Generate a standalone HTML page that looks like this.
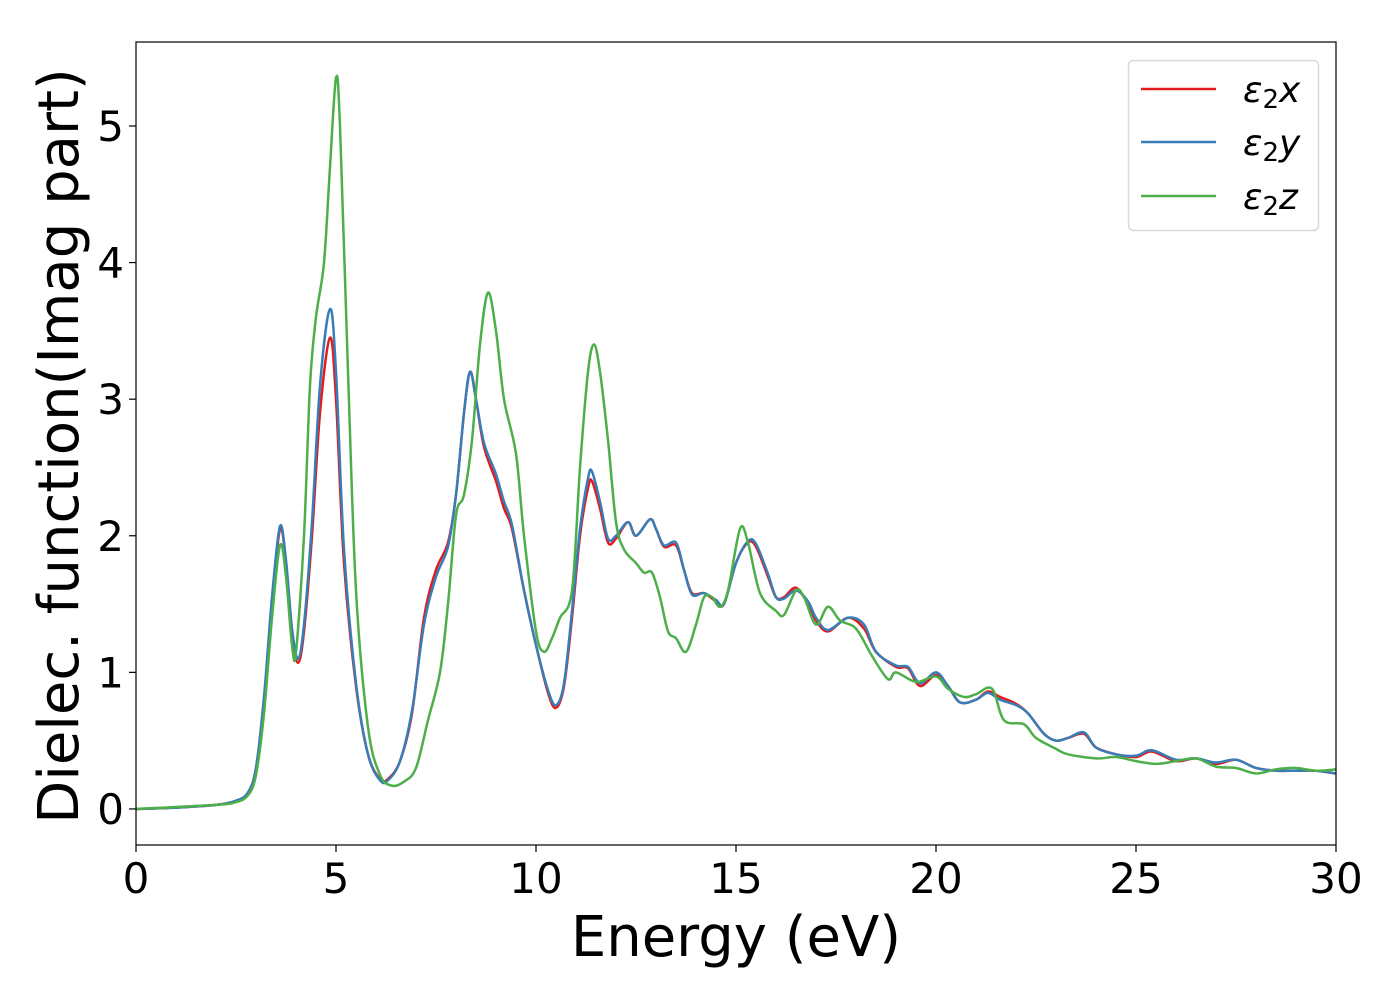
<!DOCTYPE html>
<html><head><meta charset="utf-8"><style>
html,body{margin:0;padding:0;background:#fff;}
svg{display:block;font-family:"DejaVu Sans","Liberation Sans",sans-serif;}
</style></head><body>
<svg id="chart" width="1400" height="1000" viewBox="0 0 1400 1000" xmlns="http://www.w3.org/2000/svg">
<rect width="1400" height="1000" fill="#fff"/>
<g id="plot"></g>
<g id="axes"></g>
<text x="736" y="956" font-size="56" text-anchor="middle" fill="#000">Energy (eV)</text>
<text transform="translate(78,446) rotate(-90)" font-size="56" text-anchor="middle" fill="#000">Dielec. function(Imag part)</text>
<g>
<rect x="1128.5" y="60.5" width="190" height="170" rx="5" fill="#fff" stroke="#d9d9d9" stroke-width="1.5"/>
<g>
<line x1="1141" y1="89" x2="1216" y2="89" stroke="#e41a1c" stroke-width="2.5"/>
<text x="1243" y="102" font-size="36" font-style="italic" fill="#000">ε<tspan font-style="normal" font-size="26" dy="6">2</tspan><tspan dy="-6">x</tspan></text>
</g>
<g>
<line x1="1141" y1="142" x2="1216" y2="142" stroke="#377eb8" stroke-width="2.5"/>
<text x="1243" y="155" font-size="36" font-style="italic" fill="#000">ε<tspan font-style="normal" font-size="26" dy="6">2</tspan><tspan dy="-6">y</tspan></text>
</g>
<g>
<line x1="1141" y1="196" x2="1216" y2="196" stroke="#4daf4a" stroke-width="2.5"/>
<text x="1243" y="209" font-size="36" font-style="italic" fill="#000">ε<tspan font-style="normal" font-size="26" dy="6">2</tspan><tspan dy="-6">z</tspan></text>
</g>
</g>
</svg>
<script>
const xTicks=[0,5,10,15,20,25,30];
const yTicks=[0,1,2,3,4,5];
const xLabels=["0","5","10","15","20","25","30"];
const yLabels=["0","1","2","3","4","5"];
const exE=[0,1,2,2.5,2.8,3.0,3.2,3.4,3.6,3.75,3.9,4.05,4.2,4.4,4.6,4.85,5.0,5.2,5.5,5.8,6.1,6.3,6.6,6.9,7.2,7.5,7.8,8.0,8.2,8.35,8.5,8.7,9.0,9.2,9.4,9.7,10.0,10.3,10.5,10.7,10.9,11.1,11.3,11.4,11.6,11.8,12.0,12.3,12.5,12.85,13.0,13.2,13.5,13.7,13.9,14.2,14.5,14.7,15.0,15.3,15.5,15.8,16.0,16.2,16.5,16.8,17.0,17.3,17.8,18.2,18.5,19.0,19.3,19.6,20.0,20.3,20.6,21.0,21.3,21.6,22.0,22.3,22.7,23.0,23.3,23.7,24.0,24.5,25.0,25.4,26.0,26.5,27.0,27.5,28.0,28.5,29.0,29.5,30];
const exV=[0,0.01,0.03,0.06,0.12,0.3,0.8,1.5,2.05,1.8,1.3,1.07,1.3,2.0,2.9,3.45,3.0,1.8,0.9,0.4,0.22,0.22,0.35,0.7,1.4,1.75,1.95,2.3,2.9,3.2,3.0,2.65,2.4,2.2,2.05,1.6,1.2,0.85,0.74,0.9,1.4,2.0,2.35,2.4,2.2,1.95,1.98,2.1,2.0,2.12,2.05,1.92,1.93,1.75,1.58,1.58,1.52,1.5,1.8,1.95,1.92,1.7,1.55,1.55,1.62,1.5,1.38,1.3,1.4,1.32,1.15,1.04,1.03,0.9,0.98,0.9,0.78,0.8,0.86,0.82,0.77,0.7,0.55,0.5,0.52,0.55,0.45,0.4,0.38,0.42,0.35,0.37,0.33,0.36,0.3,0.28,0.28,0.28,0.26];
const eyE=[0,1,2,2.5,2.8,3.0,3.2,3.4,3.6,3.75,3.9,4.05,4.2,4.4,4.6,4.85,5.0,5.2,5.5,5.8,6.1,6.3,6.6,6.9,7.2,7.5,7.8,8.0,8.2,8.35,8.5,8.7,9.0,9.2,9.4,9.7,10.0,10.3,10.5,10.7,10.9,11.1,11.3,11.4,11.6,11.8,12.0,12.3,12.5,12.85,13.0,13.2,13.5,13.7,13.9,14.2,14.5,14.7,15.0,15.3,15.5,15.8,16.0,16.2,16.5,16.8,17.0,17.3,17.8,18.2,18.5,19.0,19.3,19.6,20.0,20.3,20.6,21.0,21.3,21.6,22.0,22.3,22.7,23.0,23.3,23.7,24.0,24.5,25.0,25.4,26.0,26.5,27.0,27.5,28.0,28.5,29.0,29.5,30];
const eyV=[0,0.01,0.03,0.06,0.12,0.3,0.82,1.55,2.07,1.82,1.32,1.1,1.35,2.1,3.1,3.66,3.2,1.9,0.92,0.4,0.21,0.21,0.35,0.72,1.35,1.7,1.92,2.3,2.9,3.2,3.0,2.68,2.45,2.25,2.08,1.6,1.2,0.87,0.76,0.92,1.45,2.05,2.42,2.47,2.25,1.98,2.0,2.1,2.0,2.12,2.05,1.93,1.95,1.75,1.57,1.58,1.53,1.5,1.8,1.96,1.94,1.72,1.55,1.54,1.6,1.52,1.4,1.31,1.4,1.35,1.15,1.05,1.04,0.92,1.0,0.9,0.78,0.8,0.85,0.8,0.76,0.7,0.55,0.5,0.52,0.56,0.45,0.4,0.39,0.43,0.36,0.37,0.34,0.36,0.3,0.28,0.28,0.28,0.26];
const ezE=[0,2,2.5,2.8,3.0,3.2,3.4,3.6,3.75,3.9,4.0,4.2,4.35,4.5,4.7,4.85,5.0,5.1,5.3,5.5,5.8,6.1,6.4,6.7,7.0,7.3,7.6,7.8,8.0,8.2,8.4,8.6,8.8,9.0,9.2,9.5,9.7,10.0,10.2,10.4,10.6,10.9,11.1,11.3,11.45,11.6,11.8,12.0,12.2,12.5,12.7,12.9,13.1,13.3,13.5,13.75,14.0,14.2,14.4,14.6,14.8,15.1,15.3,15.6,16.0,16.2,16.5,16.7,17.0,17.3,17.6,18.0,18.4,18.8,19.0,19.5,20.0,20.3,20.7,21.0,21.4,21.7,22.2,22.5,23.0,23.3,24.0,24.5,25.0,25.5,26.0,26.5,27.0,27.5,28.0,28.5,29.0,29.5,30];
const ezV=[0,0.03,0.05,0.1,0.25,0.7,1.4,1.93,1.7,1.2,1.15,2.0,3.1,3.6,4.0,4.7,5.35,5.0,3.2,1.6,0.6,0.25,0.17,0.2,0.3,0.65,1.0,1.5,2.15,2.3,2.7,3.4,3.78,3.5,3.0,2.6,2.0,1.3,1.15,1.25,1.4,1.6,2.5,3.2,3.4,3.2,2.7,2.1,1.9,1.8,1.73,1.73,1.55,1.3,1.25,1.15,1.35,1.55,1.55,1.48,1.6,2.05,1.95,1.58,1.45,1.42,1.6,1.55,1.35,1.48,1.38,1.32,1.12,0.95,1.0,0.93,0.97,0.88,0.82,0.84,0.88,0.65,0.62,0.52,0.44,0.4,0.37,0.38,0.35,0.33,0.35,0.37,0.31,0.3,0.26,0.29,0.3,0.28,0.29];

const L=136,R=1336,T=42,B=845;
const xMin=0,xMax=30,yMin=-0.264,yMax=5.615;
function sx(v){return L+(v-xMin)/(xMax-xMin)*(R-L);}
function sy(v){return B-(v-yMin)/(yMax-yMin)*(B-T);}
const NS="http://www.w3.org/2000/svg";
function mk(tag,attrs,parent){const e=document.createElementNS(NS,tag);for(const k in attrs)e.setAttribute(k,attrs[k]);parent.appendChild(e);return e;}
function smoothPath(xs,ys){
  const p=xs.map((x,i)=>[sx(x),sy(ys[i])]);
  let d="M"+p[0][0].toFixed(2)+","+p[0][1].toFixed(2);
  for(let i=0;i<p.length-1;i++){
    const p0=p[i-1]||p[i],p1=p[i],p2=p[i+1],p3=p[i+2]||p[i+1];
    const c1=[p1[0]+(p2[0]-p0[0])/6,p1[1]+(p2[1]-p0[1])/6];
    const c2=[p2[0]-(p3[0]-p1[0])/6,p2[1]-(p3[1]-p1[1])/6];
    d+="C"+c1[0].toFixed(2)+","+c1[1].toFixed(2)+" "+c2[0].toFixed(2)+","+c2[1].toFixed(2)+" "+p2[0].toFixed(2)+","+p2[1].toFixed(2);
  }
  return d;
}
const plot=document.getElementById('plot');
mk('clipPath',{id:'clip'},plot).appendChild(Object.assign(document.createElementNS(NS,'rect'),{}));
const cr=plot.querySelector('clipPath rect');cr.setAttribute('x',L);cr.setAttribute('y',T);cr.setAttribute('width',R-L);cr.setAttribute('height',B-T);
const series=[[exE,exV,'#e41a1c','series-eps2-x'],[eyE,eyV,'#377eb8','series-eps2-y'],[ezE,ezV,'#4daf4a','series-eps2-z']];
series.forEach(s=>{
  const p=mk('path',{d:smoothPath(s[0],s[1]),fill:'none',stroke:s[2],'stroke-width':2.5,'stroke-linejoin':'round','clip-path':'url(#clip)'},plot);
  
  
});
const axes=document.getElementById('axes');
const frame=mk('rect',{x:L,y:T,width:R-L,height:B-T,fill:'none',stroke:'#000','stroke-width':1.2},axes);


xTicks.forEach((v,i)=>{
  const t=mk('line',{x1:sx(v),x2:sx(v),y1:B,y2:B+7,stroke:'#000','stroke-width':1.2},axes);
  
  
  const l=mk('text',{x:sx(v),y:B+48,'font-size':42,'text-anchor':'middle',fill:'#000'},axes);
  l.textContent=xLabels[i];
  
  
});
yTicks.forEach((v,i)=>{
  const t=mk('line',{x1:L-7,x2:L,y1:sy(v),y2:sy(v),stroke:'#000','stroke-width':1.2},axes);
  
  
  const l=mk('text',{x:L-12,y:sy(v)+15,'font-size':42,'text-anchor':'end',fill:'#000'},axes);
  l.textContent=yLabels[i];
  
  
});
</script>
</body></html>
